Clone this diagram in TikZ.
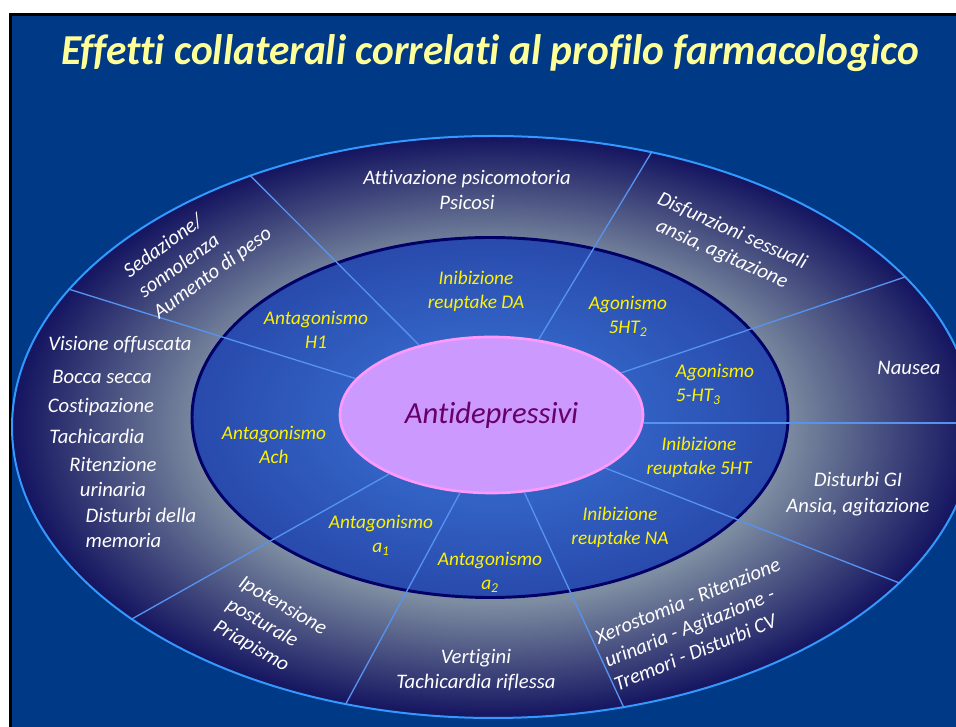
\documentclass[tikz,border=0pt]{standalone}
\usepackage{fontspec}
\setmainfont{Carlito}[Ligatures=NoCommon]
\usetikzlibrary{shapes.geometric}

\definecolor{panelblue}{RGB}{0,57,134}
\definecolor{rimblue}{RGB}{51,153,255}
\definecolor{ringdark}{RGB}{20,20,96}
\definecolor{ringlight}{RGB}{126,142,162}
\definecolor{midlight}{RGB}{50,98,196}
\definecolor{middark}{RGB}{40,74,172}
\definecolor{midedge}{RGB}{0,0,102}
\definecolor{corefill}{RGB}{204,153,255}
\definecolor{coreedge}{RGB}{255,153,255}
\definecolor{coretext}{RGB}{102,0,102}
\definecolor{divline}{RGB}{86,146,240}
\definecolor{titleyellow}{RGB}{255,255,153}

\pgfdeclareradialshading{ringshade}{\pgfpoint{0bp}{0bp}}{color(0bp)=(ringlight); color(15bp)=(ringlight); color(25bp)=(ringdark); color(50bp)=(ringdark)}
\pgfdeclareradialshading{midshade}{\pgfpoint{0bp}{0bp}}{color(0bp)=(midlight); color(12bp)=(midlight); color(25bp)=(middark); color(50bp)=(middark)}

\begin{document}
\begin{tikzpicture}[x=0.75pt,y=0.75pt,
  side/.style={font=\fontsize{15.5}{19}\selectfont\itshape,text=white,align=center,inner sep=0pt},
  act/.style={font=\fontsize{14.5}{18}\selectfont\itshape,text=yellow,align=center,inner sep=0pt},
  divider/.style={draw=divline,line width=1pt}]
  \useasboundingbox (0,0) rectangle (956,727);
  \fill[black] (9,0) rectangle (956,714);
  \fill[panelblue] (12,0) rectangle (956,711);
  \node[font=\fontsize{32}{36}\selectfont\bfseries\itshape,text=titleyellow] (title) at (490,674)
    {\scalebox{0.97}[1]{Effetti collaterali correlati al profilo farmacologico}};

  % rings
  \node[ellipse,draw=rimblue,line width=1.5pt,shading=ringshade,minimum width=721.5pt,minimum height=436.5pt,inner sep=0pt] (outer) at (493,300) {};
  \node[ellipse,draw=midedge,line width=2.2pt,shading=midshade,minimum width=447pt,minimum height=270pt,inner sep=0pt] (mid) at (490,309.5) {};
  \node[ellipse,draw=coreedge,fill=corefill,line width=2pt,minimum width=227.25pt,minimum height=117pt,inner sep=0pt,
    text=coretext,font=\fontsize{23}{26}\selectfont\itshape] (core) at (491.5,312) {Antidepressivi};

  % sector borders
  \coordinate (edge) at (956,304);
  \draw[divider] (core.136.4) -- (outer.134);
  \draw[divider] (core.165) -- (outer.162.3);
  \draw[divider] (core.58.8) -- (outer.60.8);
  \draw[divider] (core.18.1) -- (outer.20.9);
  \draw[divider] (core.-3) -- (core.-3 -| edge);
  \draw[divider] (core.-25.6) -- (outer.-21.6);
  \draw[divider] (core.-67.7) -- (outer.-65.7);
  \draw[divider] (core.-112.3) -- (outer.-118);
  \draw[divider] (core.-150.7) -- (outer.-152.9);

  % mechanisms
  \node[act] (h1) at (316,397) {Antagonismo\\H1};
  \node[act] (da) at (476,436) {Inibizione\\reuptake DA};
  \node[act] (ht2) at (628,411) {Agonismo\\5HT\textsubscript{2}};
  \node[act,align=left] (ht3) at (715,343) {Agonismo\\5-HT\textsubscript{3}};
  \node[act] (sht) at (699,270) {Inibizione\\reuptake 5HT};
  \node[act] (na) at (620,200) {Inibizione\\reuptake NA};
  \node[act] (a2) at (490,155) {Antagonismo\\a\textsubscript{2}};
  \node[act] (a1) at (381,192) {Antagonismo\\a\textsubscript{1}};
  \node[act] (ach) at (274,282) {Antagonismo\\Ach};

  % side effects
  \node[side] (psy) at (467,537) {Attivazione psicomotoria\\Psicosi};
  \node[side,align=left,rotate=36] (sed) at (198,474) {Sedazione/\\sonnolenza\\Aumento di peso};
  \node[side,rotate=-24] (sex) at (727,484) {Disfunzioni sessuali\\ansia, agitazione};
  \node[side] (nau) at (909,359) {Nausea};
  \node[side] (gi) at (858,233) {Disturbi GI\\Ansia, agitazione};
  \node[side,align=left,rotate=22] (xer) at (697,103) {Xerostomia - Ritenzione\\urinaria - Agitazione -\\Tremori - Disturbi CV};
  \node[side] (ver) at (476,57) {Vertigini\\Tachicardia riflessa};
  \node[side,align=left,rotate=-30] (ipo) at (270,99) {Ipotensione\\posturale\\Priapismo};
  \node[side] (vis) at (120,382) {Visione offuscata};
  \node[side] (boc) at (102,350) {Bocca secca};
  \node[side] (cos) at (101,320) {Costipazione};
  \node[side] (tac) at (97,291) {Tachicardia};
  \node[side] (rit) at (113,250) {Ritenzione\\urinaria};
  \node[side,align=left] (mem) at (141,199) {Disturbi della\\memoria};
\end{tikzpicture}
\end{document}
